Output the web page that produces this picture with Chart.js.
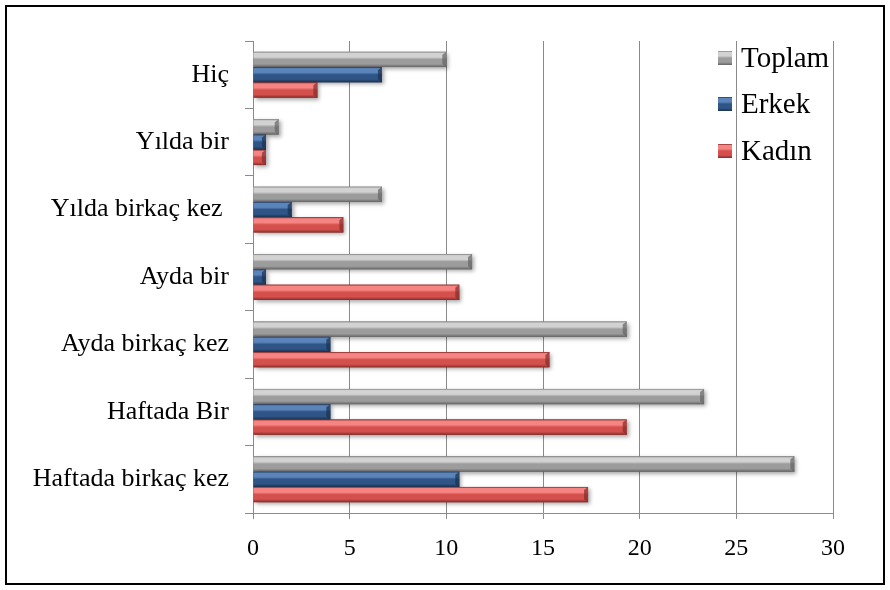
<!DOCTYPE html>
<html>
<head>
<meta charset="utf-8">
<script src="https://cdn.jsdelivr.net/npm/chart.js@4.4.1/dist/chart.umd.min.js"></script>
<style>
  html, body { margin: 0; padding: 0; background: #fff; }
  #wrap { width: 890px; height: 590px; position: relative; }
</style>
</head>
<body>
<div id="wrap"><canvas id="chart" width="890" height="590"></canvas></div>
<script>
const categories = ['Hiç', 'Yılda bir', 'Yılda birkaç kez ', 'Ayda bir', 'Ayda birkaç kez', 'Haftada Bir', 'Haftada birkaç kez'];
const toplam = [10, 1.33, 6.67, 11.33, 19.33, 23.33, 28];
const erkek = [6.67, 0.67, 2, 0.67, 4, 4, 10.67];
const kadin = [3.33, 0.67, 4.67, 10.67, 15.33, 19.33, 17.33];
const xTicks = [0, 5, 10, 15, 20, 25, 30];

const FONT = '"Liberation Serif", "Times New Roman", serif';

// light band, body, dark bottom for each series
const shades = [
  { edge: '#808080', light: '#d2d2d2', body: '#9c9c9c', dark: '#646464' },
  { edge: '#1d3658', light: '#5b84ba', body: '#2f5486', dark: '#1a3150' },
  { edge: '#7e2725', light: '#f58482', body: '#d4504c', dark: '#832c2a' },
];

function barGradient(ctx, top, bottom, s) {
  const g = ctx.createLinearGradient(0, top, 0, bottom);
  g.addColorStop(0, s.edge);
  g.addColorStop(0.1, s.light);
  g.addColorStop(0.35, s.light);
  g.addColorStop(0.5, s.body);
  g.addColorStop(0.8, s.body);
  g.addColorStop(1, s.dark);
  return g;
}

// draws the bevelled look on top of the library's bars
const bevelBars = {
  id: 'bevelBars',
  afterDatasetsDraw(chart) {
    const ctx = chart.ctx;
    chart.data.datasets.forEach((ds, i) => {
      const meta = chart.getDatasetMeta(i);
      const s = shades[i];
      meta.data.forEach((bar) => {
        const p = bar.getProps(['x', 'y', 'base', 'height'], true);
        const top = p.y - p.height / 2;
        const bottom = p.y + p.height / 2;
        const left = Math.min(p.base, p.x);
        const w = Math.abs(p.x - p.base);
        ctx.save();
        ctx.shadowColor = 'rgba(0,0,0,0.35)';
        ctx.shadowBlur = 4;
        ctx.shadowOffsetX = 2;
        ctx.shadowOffsetY = 2;
        ctx.fillStyle = barGradient(ctx, top, bottom, s);
        ctx.fillRect(left, top, w, p.height);
        ctx.restore();
        // darker chevron at the end of the bar
        ctx.save();
        ctx.fillStyle = s.dark;
        ctx.globalAlpha = 0.7;
        ctx.beginPath();
        ctx.moveTo(left + w, top);
        ctx.lineTo(left + w, bottom);
        ctx.lineTo(left + w - Math.min(4, w), bottom - 3);
        ctx.lineTo(left + w - Math.min(4, w), top + 3);
        ctx.closePath();
        ctx.fill();
        ctx.restore();
      });
    });
  },
};

const sideLegend = {
  id: 'sideLegend',
  afterDraw(chart) {
    const ctx = chart.ctx;
    const rows = [58, 104, 151];
    ctx.save();
    ctx.font = '29px ' + FONT;
    ctx.textBaseline = 'middle';
    chart.data.datasets.forEach((ds, i) => {
      const y = rows[i];
      ctx.fillStyle = barGradient(ctx, y - 7, y + 7, shades[i]);
      ctx.fillRect(718, y - 7, 14, 14);
      ctx.fillStyle = '#000';
      ctx.fillText(ds.label, 741, y + 1);
    });
    ctx.restore();
  },
};

const frame = {
  id: 'frame',
  beforeDraw(chart) {
    const ctx = chart.ctx;
    ctx.save();
    ctx.fillStyle = '#fff';
    ctx.fillRect(0, 0, chart.width, chart.height);
    ctx.strokeStyle = '#000';
    ctx.lineWidth = 2;
    ctx.strokeRect(6, 6, 878, 578);
    ctx.restore();
  },
};

new Chart(document.getElementById('chart'), {
  type: 'bar',
  data: {
    labels: categories,
    datasets: [
      { label: 'Toplam', data: toplam, backgroundColor: '#9c9c9c' },
      { label: 'Erkek', data: erkek, backgroundColor: '#2f5486' },
      { label: 'Kadın', data: kadin, backgroundColor: '#d4504c' },
    ],
  },
  options: {
    indexAxis: 'y',
    responsive: false,
    animation: false,
    categoryPercentage: 0.68,
    barPercentage: 1.0,
    layout: { padding: { top: 41, right: 57, left: 0, bottom: 0 } },
    plugins: { legend: { display: false }, tooltip: { enabled: false } },
    scales: {
      x: {
        min: 0,
        max: 30,
        afterBuildTicks: (scale) => { scale.ticks = xTicks.map((v) => ({ value: v })); },
        afterFit: (scale) => { scale.height = 77; },
        border: { color: '#8a8a8a', width: 1 },
        grid: { color: '#8a8a8a', lineWidth: 1, tickLength: 6 },
        ticks: { color: '#000', font: { family: FONT, size: 24 }, padding: 15 },
      },
      y: {
        afterFit: (scale) => { scale.width = 253; },
        border: { color: '#8a8a8a', width: 1 },
        grid: { offset: true, drawOnChartArea: false, color: '#8a8a8a', tickLength: 8 },
        ticks: { color: '#000', font: { family: FONT, size: 26 }, padding: 16 },
      },
    },
  },
  plugins: [frame, bevelBars, sideLegend],
});
</script>
</body>
</html>
